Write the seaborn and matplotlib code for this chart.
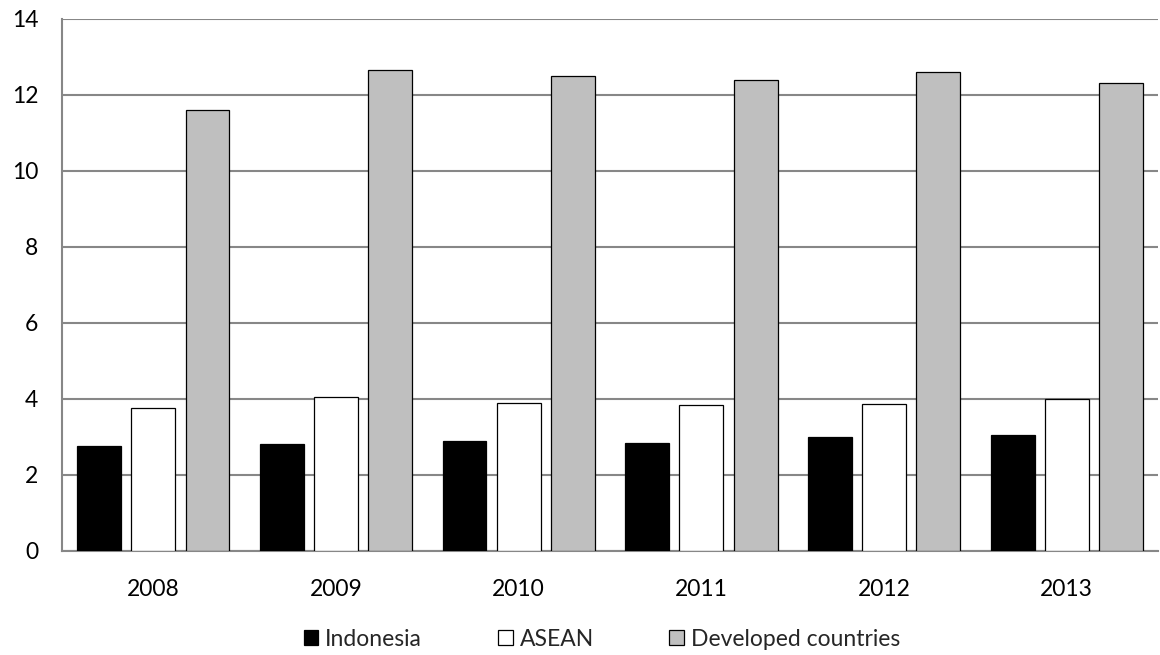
import pandas as pd
import matplotlib
matplotlib.use("Agg")
import matplotlib.pyplot as plt
import seaborn as sns

# values
years = ["2008", "2009", "2010", "2011", "2012", "2013"]
indonesia = [2.77, 2.81, 2.90, 2.83, 3.01, 3.04]
asean = [3.75, 4.06, 3.89, 3.84, 3.88, 4.01]
developed = [11.61, 12.66, 12.51, 12.39, 12.61, 12.31]
series = ["Indonesia", "ASEAN", "Developed countries"]
colors = ["#000000", "#FFFFFF", "#BFBFBF"]

df = pd.DataFrame({
    "year": years * 3,
    "value": indonesia + asean + developed,
    "series": [series[0]] * 6 + [series[1]] * 6 + [series[2]] * 6,
})

sns.set_style("white")
plt.rcParams["font.family"] = ["Lato", "DejaVu Sans"]

fig = plt.figure(figsize=(11.6, 6.55), dpi=100)
ax = fig.add_axes([0.0534, 0.1588, 0.945, 0.8122])

sns.barplot(data=df, x="year", y="value", hue="series", hue_order=series,
            palette=colors, width=0.89, gap=0.19, edgecolor="black",
            linewidth=0.9, ax=ax, legend=False, zorder=3)

ax.set_ylim(0, 14)
ax.set_yticks(range(0, 15, 2))
ax.set_xlim(-0.5, 5.5)
ax.yaxis.grid(True, color="#878787", linewidth=1.5, zorder=0)
ax.set_axisbelow(True)
for side in ["top", "right"]:
    ax.spines[side].set_visible(False)
ax.spines["left"].set_color("#878787")
ax.spines["bottom"].set_color("#878787")
ax.spines["left"].set_linewidth(1.5)
ax.spines["bottom"].set_linewidth(1.5)
ax.tick_params(axis="both", length=0, labelsize=16.5, colors="black")
ax.tick_params(axis="y", pad=17)
ax.tick_params(axis="x", pad=20)
ax.set_xlabel("")
ax.set_ylabel("")

handles = [plt.Rectangle((0, 0), 1, 1, facecolor=c, edgecolor="black", linewidth=0.9)
           for c in colors]
fig.legend(handles, series, loc="center", bbox_to_anchor=(0.519, 0.024), ncol=3,
           frameon=False, fontsize=16.5, handlelength=0.65, handleheight=0.65,
           handletextpad=0.3, columnspacing=3.3)

fig.savefig("out.png", dpi=100)
